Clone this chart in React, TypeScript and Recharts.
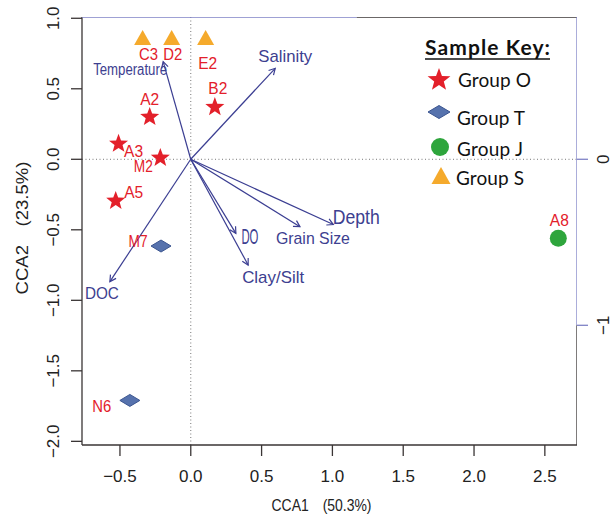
import React from "react";
import { ScatterChart, Scatter, XAxis, YAxis, ReferenceLine, Legend } from "recharts";

// sample scores (CCA1, CCA2)
const groupO = [
  { name: "A2", x: -0.29, y: 0.3 },
  { name: "B2", x: 0.17, y: 0.37 },
  { name: "A3", x: -0.51, y: 0.11 },
  { name: "M2", x: -0.215, y: 0.01 },
  { name: "A5", x: -0.53, y: -0.295 },
];
const groupT = [
  { name: "M7", x: -0.21, y: -0.615 },
  { name: "N6", x: -0.43, y: -1.71 },
];
const groupJ = [{ name: "A8", x: 2.595, y: -0.56 }];
const groupS = [
  { name: "C3", x: -0.34, y: 0.86 },
  { name: "D2", x: -0.135, y: 0.86 },
  { name: "E2", x: 0.105, y: 0.86 },
];

// environmental vectors (biplot scale, top / right axes)
const envNames = ["Temperature", "Salinity", "DOC", "DO", "Clay/Silt", "Grain Size", "Depth"];
const envX = [-0.166, 0.509, -0.487, 0.272, 0.346, 0.658, 0.859];
const envY = [0.588, 0.548, -0.737, -0.446, -0.637, -0.406, -0.393];

const xTicks = [-0.5, 0, 0.5, 1, 1.5, 2, 2.5];
const yTicks = [-2, -1.5, -1, -0.5, 0, 0.5, 1];
const arrowXTicks = [0, 1];
const arrowYTicks = [0, -1];

const legendOrder = ["Group O", "Group T", "Group J", "Group S"];

const X_DOMAIN = [-0.768, 2.727];
const Y_DOMAIN = [-2.026, 1.009];
const AX_DOMAIN = [-0.655, 2.327];
const AY_DOMAIN = [-1.721, 0.857];

const RED = "#e3202a";
const NAVY = "#3b3e92";
const AXIS_BLUE = "#7f82c6";
const DARK = "#3a3535";
const FONT = "'Liberation Sans', Arial, sans-serif";

// box edges on the biplot scale: blue where the biplot axes run, dark elsewhere
const boxEdges = [
  { color: AXIS_BLUE, pts: [{ x: AX_DOMAIN[0], y: AY_DOMAIN[1] }, { x: 1, y: AY_DOMAIN[1] }] },
  { color: DARK, pts: [{ x: 1, y: AY_DOMAIN[1] }, { x: AX_DOMAIN[1], y: AY_DOMAIN[1] }] },
  { color: AXIS_BLUE, pts: [{ x: AX_DOMAIN[1], y: AY_DOMAIN[1] }, { x: AX_DOMAIN[1], y: -1 }] },
  { color: DARK, pts: [{ x: AX_DOMAIN[1], y: -1 }, { x: AX_DOMAIN[1], y: AY_DOMAIN[0] }] },
];

// label placement for sample names (px from marker centre)
const sampleLabelOffset: Record<string, [number, number]> = {
  A2: [0, -17],
  B2: [3, -19],
  A3: [15, 8],
  M2: [-17, 9],
  A5: [18, -8],
  M7: [-23, -5],
  N6: [-28, 6],
  A8: [1, -18],
  C3: [6, 16],
  D2: [1, 16],
  E2: [2, 25],
};

// label placement for env arrows: dx, dy, font size, text length
const envLabelStyle: Record<string, number[]> = {
  Temperature: [-33, 8, 16, 74],
  Salinity: [10, -12, 17, 54],
  DOC: [-8, 12, 17, 34],
  DO: [14, 3, 22, 17],
  "Clay/Silt": [25, 12, 17, 62],
  "Grain Size": [13, 12, 17, 74],
  Depth: [23, -8, 20, 47],
};

const fmt = (v: number) => (v < 0 ? "\u2212" : "") + Math.abs(v).toFixed(1);
const fmtInt = (v: number) => (v < 0 ? "\u2212" : "") + Math.abs(v).toFixed(0);

const starPoints = (cx: number, cy: number, r: number) => {
  const pts: string[] = [];
  for (let i = 0; i < 10; i++) {
    const rad = i % 2 === 0 ? r : r * 0.42;
    const a = -Math.PI / 2 + (i * Math.PI) / 5;
    pts.push(`${cx + rad * Math.cos(a)},${cy + rad * Math.sin(a)}`);
  }
  return pts.join(" ");
};

const SampleLabel = ({ cx, cy, name }: any) => {
  const off = sampleLabelOffset[name] || [0, -15];
  return (
    <text
      x={cx + off[0]}
      y={cy + off[1]}
      textAnchor="middle"
      dominantBaseline="central"
      fontSize={16}
      textLength={19}
      lengthAdjust="spacingAndGlyphs"
      fontFamily={FONT}
      fill={RED}
    >
      {name}
    </text>
  );
};

const StarShape = (props: any) => (
  <g>
    <polygon points={starPoints(props.cx, props.cy, 10)} fill={RED} />
    <SampleLabel cx={props.cx} cy={props.cy} name={props.payload.name} />
  </g>
);

const DiamondShape = (props: any) => {
  const { cx, cy } = props;
  return (
    <g>
      <polygon
        points={`${cx - 10},${cy} ${cx},${cy - 6} ${cx + 10},${cy} ${cx},${cy + 6}`}
        fill="#5672ad"
        stroke="#3b5590"
        strokeWidth={1}
      />
      <SampleLabel cx={cx} cy={cy} name={props.payload.name} />
    </g>
  );
};

const CircleShape = (props: any) => (
  <g>
    <circle cx={props.cx} cy={props.cy} r={8.5} fill="#2ea53c" />
    <SampleLabel cx={props.cx} cy={props.cy} name={props.payload.name} />
  </g>
);

const TriangleShape = (props: any) => {
  const { cx, cy } = props;
  return (
    <g>
      <polygon points={`${cx - 8.5},${cy + 7} ${cx},${cy - 8} ${cx + 8.5},${cy + 7}`} fill="#f5aa2c" />
      <SampleLabel cx={cx} cy={cy} name={props.payload.name} />
    </g>
  );
};

// arrow tip: head + label; the origin point draws nothing
const makeArrowTip = (i: number) => (props: any) => {
  const { cx, cy, payload } = props;
  if (payload.x === 0 && payload.y === 0) return <g />;
  const name = envNames[i];
  // both biplot axes share the same px/unit, so the data direction is the screen direction
  const ang = Math.atan2(-envY[i], envX[i]);
  const h = 7;
  const s = envLabelStyle[name];
  return (
    <g>
      <polyline
        points={`${cx + h * Math.cos(ang + Math.PI - 0.5)},${cy + h * Math.sin(ang + Math.PI - 0.5)} ${cx},${cy} ${
          cx + h * Math.cos(ang + Math.PI + 0.5)
        },${cy + h * Math.sin(ang + Math.PI + 0.5)}`}
        fill="none"
        stroke={NAVY}
        strokeWidth={1.2}
      />
      <text
        x={cx + s[0]}
        y={cy + s[1]}
        textAnchor="middle"
        dominantBaseline="central"
        fontSize={s[2]}
        textLength={s[3]}
        lengthAdjust="spacingAndGlyphs"
        fontFamily={FONT}
        fill="#3d4090"
      >
        {name}
      </text>
    </g>
  );
};

const NoDot = () => <g />;

const BottomTick = ({ x, y, payload }: any) => (
  <text x={x} y={y + 18} textAnchor="middle" dominantBaseline="central" fontSize={17} fontFamily={FONT} fill="#222">
    {fmt(payload.value)}
  </text>
);

const LeftTick = ({ x, y, payload }: any) => (
  <text
    x={x - 15}
    y={y}
    transform={`rotate(-90, ${x - 15}, ${y})`}
    textAnchor="middle"
    dominantBaseline="central"
    fontSize={17}
    fontFamily={FONT}
    fill="#222"
  >
    {fmt(payload.value)}
  </text>
);

const RightTick = ({ x, y, payload }: any) => (
  <text
    x={x + 14}
    y={y}
    transform={`rotate(-90, ${x + 14}, ${y})`}
    textAnchor="middle"
    dominantBaseline="central"
    fontSize={17}
    fontFamily={FONT}
    fill="#222"
  >
    {fmtInt(payload.value)}
  </text>
);

const legendIcons: Record<string, (cx: number, cy: number) => React.ReactElement> = {
  "Group O": (cx, cy) => <polygon points={starPoints(cx, cy, 12)} fill={RED} />,
  "Group T": (cx, cy) => (
    <polygon
      points={`${cx - 11},${cy} ${cx},${cy - 6.5} ${cx + 11},${cy} ${cx},${cy + 6.5}`}
      fill="#5672ad"
      stroke="#3b5590"
    />
  ),
  "Group J": (cx, cy) => <circle cx={cx} cy={cy} r={9} fill="#2ea53c" />,
  "Group S": (cx, cy) => (
    <polygon points={`${cx - 9.5},${cy + 8} ${cx},${cy - 9} ${cx + 9.5},${cy + 8}`} fill="#f5aa2c" />
  ),
};
const legendIconPos = [[19, 50], [19, 82], [20, 117], [21, 146]];
const legendTextPos = [[38, 49, 73], [37, 87, 68], [37, 118, 66], [36, 147, 68]];

const SampleKey = (props: any) => {
  const names = (props.payload || []).map((e: any) => e.value);
  const items = legendOrder.filter((n) => names.includes(n));
  return (
    <svg width={180} height={170} style={{ display: "block" }}>
      <text x={5} y={25} fontSize={21} fontWeight="bold" fontFamily="Lato, sans-serif" fill="#111" textLength={125}>
        Sample Key:
      </text>
      <line x1={5} y1={29} x2={130} y2={29} stroke="#111" strokeWidth={1.5} />
      {items.map((n: string, i: number) => (
        <g key={n}>
          {legendIcons[n](legendIconPos[i][0], legendIconPos[i][1])}
          <text
            x={legendTextPos[i][0]}
            y={legendTextPos[i][1]}
            dominantBaseline="central"
            fontSize={19}
            fontFamily="Lato, sans-serif"
            fill="#111"
            textLength={legendTextPos[i][2]}
          >
            {n}
          </text>
        </g>
      ))}
    </svg>
  );
};

export default function App() {
  return (
    <div style={{ position: "absolute", left: 0, top: 0, background: "#fff" }}>
      <ScatterChart width={613} height={521} margin={{ top: 5, right: 0, bottom: 0, left: 0 }}>
        <XAxis
          xAxisId="main"
          type="number"
          dataKey="x"
          domain={X_DOMAIN}
          allowDataOverflow
          ticks={xTicks}
          height={76}
          tickSize={11}
          tick={<BottomTick />}
          axisLine={{ stroke: DARK, strokeWidth: 1.3 }}
          tickLine={{ stroke: DARK, strokeWidth: 1.3 }}
          label={{
            content: ({ viewBox }: any) => (
              <text
                x={viewBox.x + viewBox.width / 2 - 8}
                y={viewBox.y + 60}
                textAnchor="middle"
                dominantBaseline="central"
                fontSize={17}
                fontFamily={FONT}
                fill="#222"
                textLength={100}
                lengthAdjust="spacingAndGlyphs"
              >
                {"CCA1\u3000(50.3%)"}
              </text>
            ),
          }}
        />
        <XAxis
          xAxisId="arrow"
          orientation="top"
          type="number"
          dataKey="x"
          domain={AX_DOMAIN}
          allowDataOverflow
          ticks={arrowXTicks}
          height={12}
          tickSize={12}
          tick={false}
          axisLine={false}
          tickLine={{ stroke: AXIS_BLUE, strokeWidth: 1.3 }}
        />
        <YAxis
          yAxisId="main"
          type="number"
          dataKey="y"
          domain={Y_DOMAIN}
          allowDataOverflow
          ticks={yTicks}
          width={82}
          tickSize={11}
          tick={<LeftTick />}
          axisLine={{ stroke: DARK, strokeWidth: 1.3 }}
          tickLine={{ stroke: DARK, strokeWidth: 1.3 }}
          label={{
            content: ({ viewBox }: any) => (
              <text
                x={viewBox.x + 22}
                y={viewBox.y + viewBox.height / 2 - 3}
                transform={`rotate(-90, ${viewBox.x + 22}, ${viewBox.y + viewBox.height / 2 - 3})`}
                textAnchor="middle"
                dominantBaseline="central"
                fontSize={17}
                fontFamily={FONT}
                fill="#222"
                textLength={133}
                lengthAdjust="spacingAndGlyphs"
              >
                {"CCA2\u3000(23.5%)"}
              </text>
            ),
          }}
        />
        <YAxis
          yAxisId="arrow"
          orientation="right"
          type="number"
          dataKey="y"
          domain={AY_DOMAIN}
          allowDataOverflow
          ticks={arrowYTicks}
          width={36}
          tickSize={11}
          tick={<RightTick />}
          axisLine={false}
          tickLine={{ stroke: AXIS_BLUE, strokeWidth: 1.3 }}
        />

        {/* zero lines */}
        <ReferenceLine xAxisId="main" yAxisId="main" x={0} stroke="#777" strokeDasharray="1 2.5" />
        <ReferenceLine xAxisId="main" yAxisId="main" y={0} stroke="#777" strokeDasharray="1 2.5" />

        {boxEdges.map((e, i) => (
          <Scatter
            key={`edge-${i}`}
            data={e.pts}
            xAxisId="arrow"
            yAxisId="arrow"
            line={{ stroke: e.color, strokeWidth: 1.3 }}
            lineType="joint"
            shape={NoDot}
            legendType="none"
            isAnimationActive={false}
          />
        ))}

        {envNames.map((n, i) => (
          <Scatter
            key={n}
            data={[{ x: 0, y: 0 }, { x: envX[i], y: envY[i] }]}
            xAxisId="arrow"
            yAxisId="arrow"
            line={{ stroke: NAVY, strokeWidth: 1.2 }}
            lineType="joint"
            shape={makeArrowTip(i)}
            legendType="none"
            isAnimationActive={false}
          />
        ))}

        <Scatter name="Group O" data={groupO} xAxisId="main" yAxisId="main" shape={StarShape} fill={RED} isAnimationActive={false} />
        <Scatter name="Group T" data={groupT} xAxisId="main" yAxisId="main" shape={DiamondShape} fill="#5672ad" isAnimationActive={false} />
        <Scatter name="Group J" data={groupJ} xAxisId="main" yAxisId="main" shape={CircleShape} fill="#2ea53c" isAnimationActive={false} />
        <Scatter name="Group S" data={groupS} xAxisId="main" yAxisId="main" shape={TriangleShape} fill="#f5aa2c" isAnimationActive={false} />

        <Legend
          layout="vertical"
          align="center"
          verticalAlign="middle"
          content={<SampleKey />}
          wrapperStyle={{ position: "absolute", left: 420, top: 30, width: 180, height: 170 }}
        />
      </ScatterChart>
    </div>
  );
}
